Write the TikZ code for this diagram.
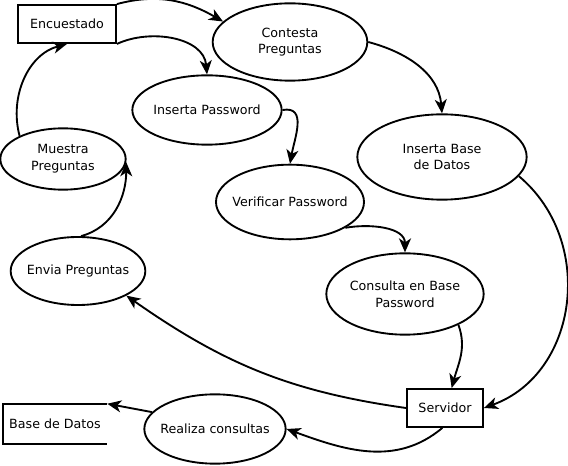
\documentclass[tikz,border=0pt]{standalone}
\usepackage{fontspec}
\setmainfont{DejaVu Sans}
\usepackage{tikz}
\usetikzlibrary{shapes.geometric,arrows.meta}

\tikzset{
  proc/.style={ellipse, draw, line width=1.4pt, inner xsep=-6pt, inner ysep=0pt, align=center},
  ent/.style={rectangle, draw, line width=1.4pt, inner sep=0pt},
  flow/.style={line width=1.4pt, -{Stealth[length=10.5pt,width=9pt,inset=3pt]}}
}

\begin{document}
\begin{tikzpicture}[x=0.75pt, y=0.75pt, font=\fontsize{9.5}{12.5}\selectfont]
        \useasboundingbox (0,0) rectangle (568,-466);                          %
        \node[ent, minimum width=73.5pt, minimum height=28.5pt] (enc) at (67,-24) {Encuestado};
        \node[proc, minimum width=116pt, minimum height=58pt] (cont) at (290,-42) {Contesta\\Preguntas};
        \node[proc, minimum width=112pt, minimum height=52pt] (inspw) at (207,-110) {Inserta Password};
        \node[proc, minimum width=94pt, minimum height=46pt] (mue) at (63,-159) {Muestra\\Preguntas};
        \node[proc, minimum width=127pt, minimum height=64pt] (ibd) at (442,-157) {Inserta Base\\ de Datos};
        \node[proc, minimum width=111pt, minimum height=56pt] (ver) at (290,-202) {Verificar Password};
        \node[proc, minimum width=101pt, minimum height=51pt] (env) at (78,-271) {Envia Preguntas};
        \node[proc, minimum width=118pt, minimum height=61pt] (cons) at (405,-294) {Consulta en Base\\Password};
        \node[ent, minimum width=57pt, minimum height=28.5pt] (srv) at (445,-408) {Servidor};
        \node[proc, minimum width=106pt, minimum height=52pt] (rea) at (215,-429) {Realiza consultas};
        \node[minimum width=78pt, minimum height=30pt, inner sep=0pt] (bd) at (55,-424) {Base de Datos};
        \draw [line width=1.4pt] (bd.north east) -- (bd.north west)
              -- (bd.south west) -- (bd.south east);                           %data store
        % flujos
        \draw [flow] (enc.north east) to[out=15, in=150] (cont.163);
        \draw [flow] (enc.south east) to[out=25, in=95] (inspw.north);
        \draw [flow] (mue.152) to[out=105, in=195] (enc.south);
        \draw [flow] (env.85) to[out=15, in=-90] (mue.-3);
        \draw [flow] (inspw.east) to[out=10, in=80, looseness=1.2] (ver.north);
        \draw [flow] (cont.east) to[out=-15, in=95] (ibd.north);
        \draw [flow] (ver.-25) to[out=10, in=90] (cons.north);
        \draw [flow] (ibd.-14) to[out=-40, in=20, looseness=1.1] (srv.east);
        \draw [flow] (cons.-30) to[out=-70, in=75] ([xshift=5]srv.north);
        \draw [flow] (srv.west) to[out=172, in=-35] (env.-27);
        \draw [flow] ([xshift=-2]srv.south) to[out=-140, in=-20] (rea.east);
        \draw [flow] (rea.165) -- (bd.north east);
\end{tikzpicture}
\end{document}
